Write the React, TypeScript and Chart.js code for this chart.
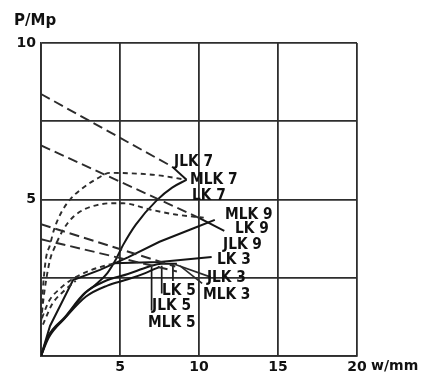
import React, { useEffect, useRef } from "react";
import { Chart, registerables } from "chart.js";

Chart.register(...registerables);

type P = [number, number];

// Descending (post-peak) branches, long dashes
const jlk7Drop: P[] = [[0, 8.37], [8.3, 6.05]];
const jlk7Tail: P[] = [[8.3, 6.05], [9.21, 5.63]];
const lk9Drop: P[] = [[0, 6.73], [10.06, 4.4]];
const lk9Tail: P[] = [[10.06, 4.4], [11.6, 4.0]];
const jlk3Drop: P[] = [[0, 4.21], [8.5, 2.86]];
const jlk3Tail: P[] = [[8.5, 2.92], [10.75, 2.52]];
const mlk3Drop: P[] = [[0, 3.73], [8.6, 2.7]];
const mlk3Tail: P[] = [[8.8, 2.88], [10.2, 2.32]];

// Rising curves, short dashes
const mlk7Rise: P[] = [[0, 1.1], [0.1, 2.0], [0.3, 3.07], [0.57, 3.55], [0.82, 4.03], [1.3, 4.6], [1.84, 5.0], [2.6, 5.35], [3.5, 5.65], [4.37, 5.85], [5.5, 5.84], [7.3, 5.78], [9.21, 5.63]];
const mlk9Rise: P[] = [[0, 1.1], [0.2, 2.0], [0.57, 3.07], [0.89, 3.5], [1.4, 4.03], [2.03, 4.44], [2.8, 4.7], [3.54, 4.82], [4.4, 4.88], [5.2, 4.88], [6.9, 4.68], [8.5, 4.52], [10.3, 4.42]];
const lk3RiseA: P[] = [[0.06, 1.21], [0.5, 1.75], [1.2, 2.15], [1.9, 2.43], [3.2, 2.75], [4.6, 2.96]];
const lk3RiseB: P[] = [[0.12, 1.0], [0.7, 1.65], [1.5, 2.1], [2.2, 2.4]];

// Solid rising curves
const jlk9Rise: P[] = [[0, 0], [0.57, 0.96], [2.03, 2.43], [3.73, 2.75], [5.5, 3.15], [7.5, 3.65], [9.5, 4.05], [11.0, 4.35]];
const lk7Rise: P[] = [[0, 0], [0.44, 0.6], [1.52, 1.22], [2.78, 2.0], [3.5, 2.3], [4.2, 2.65], [4.7, 3.05], [5.2, 3.55], [6.0, 4.2], [7.34, 4.98], [8.3, 5.38], [9.21, 5.63]];
const lk3Flat: P[] = [[4.6, 2.96], [7.5, 3.0], [10.8, 3.16]];
const lk5Rise: P[] = [[0, 0], [0.44, 0.62], [1.52, 1.25], [2.78, 2.02], [4.0, 2.38], [5.5, 2.62], [6.8, 2.85], [7.6, 2.95], [8.6, 2.95]];
const mlk5Rise: P[] = [[0, 0], [0.5, 0.6], [1.5, 1.2], [2.85, 1.9], [4.2, 2.25], [5.5, 2.45], [6.6, 2.65], [7.5, 2.85]];

// Label leader lines
const leaderMlk5: P[] = [[7.0, 2.84], [7.0, 1.45]];
const leaderJlk5: P[] = [[7.64, 2.88], [7.64, 2.0]];
const leaderLk5: P[] = [[8.35, 2.92], [8.35, 2.4]];

// Curve labels: text, x, y (data coordinates of left / middle)
const labelTexts = ["JLK 7", "MLK 7", "LK 7", "MLK 9", "LK 9", "JLK 9", "LK 3", "JLK 3", "MLK 3", "LK 5", "JLK 5", "MLK 5"];
const labelX = [8.42, 9.43, 9.56, 11.65, 12.28, 11.52, 11.14, 10.5, 10.25, 7.66, 7.03, 6.77];
const labelY = [6.25, 5.67, 5.14, 4.55, 4.11, 3.59, 3.12, 2.54, 2.0, 2.11, 1.63, 1.1];

const xTicks = [0, 5, 10, 15, 20];
const yTickLabels = [5, 10];

const LONG = [10, 5];
const SHORT = [5, 4];

export default function App() {
  const ref = useRef<HTMLCanvasElement | null>(null);
  useEffect(() => {
    document.body.style.margin = "0";
    const canvas = ref.current!;
    const mk = (pts: P[], dash: number[] | null, curved: boolean, color = "#151515", w = 2) => ({
      data: pts.map(([x, y]) => ({ x, y })),
      showLine: true,
      borderColor: color,
      borderWidth: w,
      borderDash: dash || [],
      pointRadius: 0,
      cubicInterpolationMode: curved ? "monotone" : "default",
      tension: 0,
      fill: false,
    });
    const dashC = "#2c2c2c";
    const datasets: any[] = [
      mk(jlk7Drop, LONG, false, dashC, 1.9),
      mk(jlk7Tail, null, false),
      mk(lk9Drop, LONG, false, dashC, 1.9),
      mk(lk9Tail, null, false),
      mk(jlk3Drop, LONG, false, dashC, 1.9),
      mk(jlk3Tail, null, false, "#2a2a2a", 1.6),
      mk(mlk3Drop, LONG, false, dashC, 1.9),
      mk(mlk3Tail, null, false, "#2a2a2a", 1.6),
      mk(mlk7Rise, SHORT, true, dashC, 1.9),
      mk(mlk9Rise, SHORT, true, dashC, 1.9),
      mk(lk3RiseA, SHORT, true, dashC, 1.9),
      mk(lk3RiseB, SHORT, true, dashC, 1.9),
      mk(jlk9Rise, null, false),
      mk(lk7Rise, null, true),
      mk(lk3Flat, null, false),
      mk(lk5Rise, null, true),
      mk(mlk5Rise, null, true),
      mk(leaderMlk5, null, false, "#1a1a1a", 1.7),
      mk(leaderJlk5, null, false, "#1a1a1a", 1.7),
      mk(leaderLk5, null, false, "#1a1a1a", 1.7),
    ];

    const textPlugin = {
      id: "texts",
      afterDraw(chart: any) {
        const { ctx, scales, chartArea } = chart;
        const xs = scales.x, ys = scales.y;
        ctx.save();
        ctx.fillStyle = "#111";
        ctx.font = "bold 16px 'DejaVu Sans'";
        ctx.textBaseline = "middle";
        ctx.textAlign = "left";
        labelTexts.forEach((t, i) => {
          const px = xs.getPixelForValue(labelX[i]);
          const py = ys.getPixelForValue(labelY[i]);
          ctx.save();
          ctx.translate(px, py);
          ctx.scale(0.86, 1);
          ctx.fillText(t, 0, 1);
          ctx.restore();
        });
        // axis unit texts
        ctx.font = "bold 14px 'DejaVu Sans'";
        ctx.textBaseline = "top";
        ctx.fillText("w/mm", xs.getPixelForValue(20) + 14, chartArea.bottom + 3);
        ctx.textBaseline = "alphabetic";
        ctx.font = "bold 15px 'DejaVu Sans'";
        ctx.fillText("P/Mp", 14, 25);
        ctx.restore();
      },
    };

    const chart = new Chart(canvas, {
      type: "scatter",
      data: { datasets },
      options: {
        animation: false,
        responsive: false,
        events: [],
        layout: { padding: { left: 0, top: 43, right: 64, bottom: 0 } },
        plugins: { legend: { display: false }, tooltip: { enabled: false } },
        scales: {
          x: {
            type: "linear",
            min: 0,
            max: 20,
            afterFit: (s: any) => { s.height = 22; },
            afterBuildTicks: (s: any) => { s.ticks = xTicks.map((v) => ({ value: v })); },
            grid: { color: "#2e2e2e", lineWidth: 1.8, drawTicks: false },
            border: { color: "#2e2e2e", width: 1.8 },
            ticks: {
              padding: 3,
              color: "#111",
              font: { family: "DejaVu Sans", size: 14, weight: "bold" },
              callback: (v: any) => (v === 0 ? "" : String(v)),
            },
          },
          y: {
            type: "linear",
            min: 0,
            max: 10,
            afterFit: (s: any) => { s.width = 41; },
            grid: { color: "#2e2e2e", lineWidth: 1.8, drawTicks: false },
            border: { color: "#2e2e2e", width: 1.8 },
            ticks: {
              stepSize: 2.5,
              padding: 5,
              color: "#111",
              font: { family: "DejaVu Sans", size: 14, weight: "bold" },
              callback: (v: any) => (yTickLabels.includes(Number(v)) ? String(v) : ""),
            },
          },
        },
      },
      plugins: [textPlugin],
    } as any);
    return () => chart.destroy();
  }, []);
  return (
    <div style={{ width: 421, height: 378, background: "#fff" }}>
      <canvas ref={ref} width={421} height={378} style={{ display: "block" }} />
    </div>
  );
}
